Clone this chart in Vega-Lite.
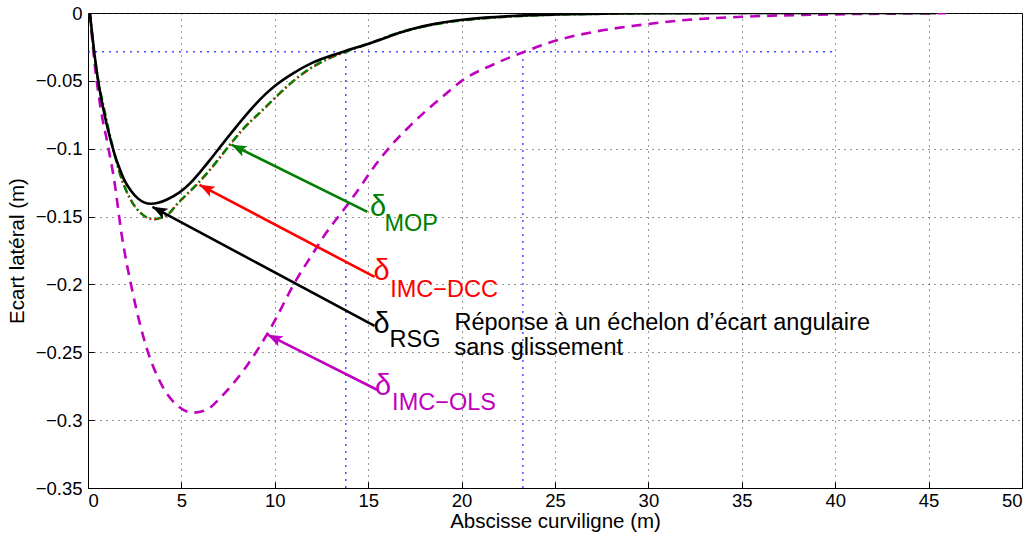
{
  "$schema": "https://vega.github.io/schema/vega-lite/v6.json",
  "width": 934,
  "height": 475,
  "autosize": {"type": "none"},
  "padding": {"left": 88, "top": 13, "right": 14, "bottom": 46},
  "background": "white",
  "config": {
    "font": "Liberation Sans",
    "view": {"stroke": "#000", "strokeWidth": 1},
    "axis": {
      "domainColor": "#000",
      "tickColor": "#000",
      "labelColor": "#000",
      "titleColor": "#000",
      "labelFont": "Liberation Sans",
      "titleFont": "Liberation Sans",
      "labelFontSize": 18.5,
      "titleFontSize": 20.5,
      "titleFontWeight": "normal",
      "gridColor": "#333",
      "gridDash": [1, 5],
      "gridWidth": 1,
      "tickSize": -6
    }
  },
  "datasets": {
    "ref": [
      {"x": 0, "x2": 40, "y": -0.0285, "y2": -0.0285},
      {"x": 13.8, "x2": 13.8, "y": -0.35, "y2": -0.0285},
      {"x": 23.28, "x2": 23.28, "y": -0.35, "y2": -0.0285}
    ],
    "curves": [
      {"s": "IMC-OLS", "x": 0.1, "y": 0},
      {"s": "IMC-OLS", "x": 0.33, "y": -0.034},
      {"s": "IMC-OLS", "x": 0.69, "y": -0.0713},
      {"s": "IMC-OLS", "x": 1.04, "y": -0.0959},
      {"s": "IMC-OLS", "x": 1.4, "y": -0.123},
      {"s": "IMC-OLS", "x": 1.8, "y": -0.163},
      {"s": "IMC-OLS", "x": 2.4, "y": -0.2065},
      {"s": "IMC-OLS", "x": 3.12, "y": -0.246},
      {"s": "IMC-OLS", "x": 4.0, "y": -0.2754},
      {"s": "IMC-OLS", "x": 4.9, "y": -0.2905},
      {"s": "IMC-OLS", "x": 5.61, "y": -0.2945},
      {"s": "IMC-OLS", "x": 6.33, "y": -0.2925},
      {"s": "IMC-OLS", "x": 7.22, "y": -0.2815},
      {"s": "IMC-OLS", "x": 8.47, "y": -0.2606},
      {"s": "IMC-OLS", "x": 9.72, "y": -0.2336},
      {"s": "IMC-OLS", "x": 11.15, "y": -0.1967},
      {"s": "IMC-OLS", "x": 12.0, "y": -0.178},
      {"s": "IMC-OLS", "x": 12.75, "y": -0.162},
      {"s": "IMC-OLS", "x": 13.82, "y": -0.1426},
      {"s": "IMC-OLS", "x": 14.53, "y": -0.129},
      {"s": "IMC-OLS", "x": 15.25, "y": -0.1145},
      {"s": "IMC-OLS", "x": 16.14, "y": -0.099},
      {"s": "IMC-OLS", "x": 17.03, "y": -0.086},
      {"s": "IMC-OLS", "x": 18.1, "y": -0.072},
      {"s": "IMC-OLS", "x": 19.0, "y": -0.0615},
      {"s": "IMC-OLS", "x": 20.06, "y": -0.0495},
      {"s": "IMC-OLS", "x": 21.67, "y": -0.0381},
      {"s": "IMC-OLS", "x": 23.28, "y": -0.029},
      {"s": "IMC-OLS", "x": 24.88, "y": -0.021},
      {"s": "IMC-OLS", "x": 27.2, "y": -0.0136},
      {"s": "IMC-OLS", "x": 29.7, "y": -0.0086},
      {"s": "IMC-OLS", "x": 31.7, "y": -0.0055},
      {"s": "IMC-OLS", "x": 35, "y": -0.0028},
      {"s": "IMC-OLS", "x": 40, "y": -0.001},
      {"s": "IMC-OLS", "x": 45.9, "y": -0.0002},

      {"s": "MOP", "x": 0.1, "y": 0},
      {"s": "MOP", "x": 0.3, "y": -0.026},
      {"s": "MOP", "x": 0.5, "y": -0.046},
      {"s": "MOP", "x": 0.87, "y": -0.0713},
      {"s": "MOP", "x": 1.1, "y": -0.086},
      {"s": "MOP", "x": 1.4, "y": -0.103},
      {"s": "MOP", "x": 1.76, "y": -0.1205},
      {"s": "MOP", "x": 2.29, "y": -0.1377},
      {"s": "MOP", "x": 2.83, "y": -0.1475},
      {"s": "MOP", "x": 3.2, "y": -0.151},
      {"s": "MOP", "x": 3.54, "y": -0.152},
      {"s": "MOP", "x": 3.9, "y": -0.1508},
      {"s": "MOP", "x": 4.26, "y": -0.1487},
      {"s": "MOP", "x": 4.79, "y": -0.1405},
      {"s": "MOP", "x": 5.3, "y": -0.1335},
      {"s": "MOP", "x": 5.8, "y": -0.1266},
      {"s": "MOP", "x": 6.5, "y": -0.116},
      {"s": "MOP", "x": 7.0, "y": -0.1075},
      {"s": "MOP", "x": 7.6, "y": -0.097},
      {"s": "MOP", "x": 8.2, "y": -0.087},
      {"s": "MOP", "x": 9.36, "y": -0.0713},
      {"s": "MOP", "x": 10.2, "y": -0.06},
      {"s": "MOP", "x": 10.96, "y": -0.0504},
      {"s": "MOP", "x": 12.0, "y": -0.04},
      {"s": "MOP", "x": 12.93, "y": -0.0332},
      {"s": "MOP", "x": 14.18, "y": -0.0266},
      {"s": "MOP", "x": 15.6, "y": -0.0197},
      {"s": "MOP", "x": 16.68, "y": -0.0143},
      {"s": "MOP", "x": 17.5, "y": -0.0115},
      {"s": "MOP", "x": 18.5, "y": -0.0085},
      {"s": "MOP", "x": 20, "y": -0.0055},
      {"s": "MOP", "x": 22.7, "y": -0.0025},
      {"s": "MOP", "x": 25, "y": -0.0012},
      {"s": "MOP", "x": 28, "y": -0.0005},
      {"s": "MOP", "x": 32, "y": -0.0001},
      {"s": "MOP", "x": 36, "y": 0},
      {"s": "MOP", "x": 45.4, "y": 0},

      {"s": "IMC-DCC", "x": 0.1, "y": 0},
      {"s": "IMC-DCC", "x": 0.3, "y": -0.026},
      {"s": "IMC-DCC", "x": 0.5, "y": -0.046},
      {"s": "IMC-DCC", "x": 0.87, "y": -0.0715},
      {"s": "IMC-DCC", "x": 1.1, "y": -0.0865},
      {"s": "IMC-DCC", "x": 1.4, "y": -0.1035},
      {"s": "IMC-DCC", "x": 1.76, "y": -0.121},
      {"s": "IMC-DCC", "x": 2.29, "y": -0.138},
      {"s": "IMC-DCC", "x": 2.83, "y": -0.1478},
      {"s": "IMC-DCC", "x": 3.2, "y": -0.1512},
      {"s": "IMC-DCC", "x": 3.54, "y": -0.1522},
      {"s": "IMC-DCC", "x": 3.9, "y": -0.151},
      {"s": "IMC-DCC", "x": 4.26, "y": -0.149},
      {"s": "IMC-DCC", "x": 4.79, "y": -0.141},
      {"s": "IMC-DCC", "x": 5.3, "y": -0.134},
      {"s": "IMC-DCC", "x": 5.8, "y": -0.127},
      {"s": "IMC-DCC", "x": 6.5, "y": -0.1165},
      {"s": "IMC-DCC", "x": 7.0, "y": -0.108},
      {"s": "IMC-DCC", "x": 7.6, "y": -0.0975},
      {"s": "IMC-DCC", "x": 8.2, "y": -0.0875},
      {"s": "IMC-DCC", "x": 9.36, "y": -0.0718},
      {"s": "IMC-DCC", "x": 10.2, "y": -0.0605},
      {"s": "IMC-DCC", "x": 10.96, "y": -0.0508},
      {"s": "IMC-DCC", "x": 12.0, "y": -0.0403},
      {"s": "IMC-DCC", "x": 12.93, "y": -0.0335},
      {"s": "IMC-DCC", "x": 14.18, "y": -0.0268},
      {"s": "IMC-DCC", "x": 15.6, "y": -0.0199},
      {"s": "IMC-DCC", "x": 16.68, "y": -0.0145},
      {"s": "IMC-DCC", "x": 17.5, "y": -0.0116},
      {"s": "IMC-DCC", "x": 18.5, "y": -0.0086},
      {"s": "IMC-DCC", "x": 20, "y": -0.0056},
      {"s": "IMC-DCC", "x": 22.7, "y": -0.0026},
      {"s": "IMC-DCC", "x": 25, "y": -0.0012},
      {"s": "IMC-DCC", "x": 28, "y": -0.0005},
      {"s": "IMC-DCC", "x": 32, "y": -0.0001},
      {"s": "IMC-DCC", "x": 36, "y": 0},
      {"s": "IMC-DCC", "x": 45.4, "y": 0},

      {"s": "RSG", "x": 0.1, "y": 0},
      {"s": "RSG", "x": 0.3, "y": -0.025},
      {"s": "RSG", "x": 0.51, "y": -0.047},
      {"s": "RSG", "x": 0.75, "y": -0.066},
      {"s": "RSG", "x": 0.95, "y": -0.079},
      {"s": "RSG", "x": 1.2, "y": -0.093},
      {"s": "RSG", "x": 1.4, "y": -0.103},
      {"s": "RSG", "x": 1.7, "y": -0.115},
      {"s": "RSG", "x": 1.94, "y": -0.123},
      {"s": "RSG", "x": 2.3, "y": -0.131},
      {"s": "RSG", "x": 2.65, "y": -0.1364},
      {"s": "RSG", "x": 3.0, "y": -0.1395},
      {"s": "RSG", "x": 3.36, "y": -0.1406},
      {"s": "RSG", "x": 3.8, "y": -0.1397},
      {"s": "RSG", "x": 4.26, "y": -0.1372},
      {"s": "RSG", "x": 4.9, "y": -0.1322},
      {"s": "RSG", "x": 5.5, "y": -0.125},
      {"s": "RSG", "x": 6.0, "y": -0.1172},
      {"s": "RSG", "x": 6.5, "y": -0.1088},
      {"s": "RSG", "x": 7.0, "y": -0.1},
      {"s": "RSG", "x": 7.5, "y": -0.0913},
      {"s": "RSG", "x": 8.0, "y": -0.0828},
      {"s": "RSG", "x": 8.5, "y": -0.0745},
      {"s": "RSG", "x": 9.0, "y": -0.0668},
      {"s": "RSG", "x": 9.5, "y": -0.0598},
      {"s": "RSG", "x": 10.0, "y": -0.0538},
      {"s": "RSG", "x": 11.0, "y": -0.0443},
      {"s": "RSG", "x": 12.0, "y": -0.0368},
      {"s": "RSG", "x": 13.0, "y": -0.0315},
      {"s": "RSG", "x": 13.82, "y": -0.0278},
      {"s": "RSG", "x": 15.07, "y": -0.0224},
      {"s": "RSG", "x": 15.6, "y": -0.0199},
      {"s": "RSG", "x": 16.68, "y": -0.0145},
      {"s": "RSG", "x": 17.4, "y": -0.0116},
      {"s": "RSG", "x": 18.5, "y": -0.0082},
      {"s": "RSG", "x": 20.06, "y": -0.005},
      {"s": "RSG", "x": 22.7, "y": -0.0022},
      {"s": "RSG", "x": 25.1, "y": -0.001},
      {"s": "RSG", "x": 28, "y": -0.0004},
      {"s": "RSG", "x": 32, "y": -0.0001},
      {"s": "RSG", "x": 36, "y": 0},
      {"s": "RSG", "x": 45.4, "y": 0}
    ],
    "arrows": [
      {"s": "MOP", "x": 7.68, "y": -0.097, "x2": 14.96, "y2": -0.1465},
      {"s": "IMC-DCC", "x": 5.97, "y": -0.1266, "x2": 15.34, "y2": -0.1945},
      {"s": "RSG", "x": 3.45, "y": -0.1428, "x2": 15.34, "y2": -0.2306},
      {"s": "IMC-OLS", "x": 9.61, "y": -0.237, "x2": 15.5, "y2": -0.2778}
    ],
    "deltas": [
      {"s": "MOP", "x": 15.1, "y": -0.1495, "t": "δ"},
      {"s": "IMC-DCC", "x": 15.28, "y": -0.1967, "t": "δ"},
      {"s": "RSG", "x": 15.28, "y": -0.2355, "t": "δ"},
      {"s": "IMC-OLS", "x": 15.37, "y": -0.2815, "t": "δ"}
    ],
    "subs": [
      {"s": "MOP", "x": 15.87, "y": -0.1603, "t": "MOP"},
      {"s": "IMC-DCC", "x": 16.18, "y": -0.209, "t": "IMC−DCC"},
      {"s": "RSG", "x": 16.14, "y": -0.2459, "t": "RSG"},
      {"s": "IMC-OLS", "x": 16.28, "y": -0.2926, "t": "IMC−OLS"}
    ],
    "note": [
      {"x": 19.62, "y": -0.2336, "t": "Réponse à un échelon d’écart angulaire"},
      {"x": 19.62, "y": -0.2518, "t": "sans glissement"}
    ]
  },
  "layer": [
    {
      "data": {"name": "ref"},
      "mark": {"type": "rule", "color": "#2020ff", "strokeWidth": 1.5, "strokeDash": [2, 5], "opacity": 0.8},
      "encoding": {
        "x": {
          "field": "x", "type": "quantitative",
          "scale": {"domain": [0, 50], "nice": false, "zero": false},
          "axis": {"values": [0, 5, 10, 15, 20, 25, 30, 35, 40, 45, 50], "title": "Abscisse curviligne (m)", "grid": true, "format": "~g", "labelPadding": 9, "titlePadding": 2}
        },
        "y": {
          "field": "y", "type": "quantitative",
          "scale": {"domain": [-0.35, 0], "nice": false, "zero": false},
          "axis": {"values": [-0.35, -0.3, -0.25, -0.2, -0.15, -0.1, -0.05, 0], "title": "Ecart latéral (m)", "grid": true, "format": "~g", "labelPadding": 12, "titlePadding": 8}
        },
        "x2": {"field": "x2"},
        "y2": {"field": "y2"}
      }
    },
    {
      "data": {"name": "curves"},
      "transform": [{"filter": "datum.s == 'IMC-OLS'"}],
      "mark": {"type": "line", "color": "#bf00bf", "strokeWidth": 2.6, "strokeDash": [10, 7], "interpolate": "monotone", "clip": true},
      "encoding": {"x": {"field": "x", "type": "quantitative"}, "y": {"field": "y", "type": "quantitative"}}
    },
    {
      "data": {"name": "curves"},
      "transform": [{"filter": "datum.s == 'MOP'"}],
      "mark": {"type": "line", "color": "#008000", "strokeWidth": 2.6, "strokeDash": [8, 3, 2, 3], "interpolate": "monotone", "clip": true},
      "encoding": {"x": {"field": "x", "type": "quantitative"}, "y": {"field": "y", "type": "quantitative"}}
    },
    {
      "data": {"name": "curves"},
      "transform": [{"filter": "datum.s == 'IMC-DCC'"}],
      "mark": {"type": "line", "color": "#ff0000", "strokeWidth": 1.3, "strokeDash": [1, 3], "interpolate": "monotone", "clip": true},
      "encoding": {"x": {"field": "x", "type": "quantitative"}, "y": {"field": "y", "type": "quantitative"}}
    },
    {
      "data": {"name": "curves"},
      "transform": [{"filter": "datum.s == 'RSG'"}],
      "mark": {"type": "line", "color": "#000000", "strokeWidth": 2.6, "interpolate": "monotone", "clip": true},
      "encoding": {"x": {"field": "x", "type": "quantitative"}, "y": {"field": "y", "type": "quantitative"}}
    },
    {
      "data": {"name": "arrows"},
      "mark": {"type": "rule", "strokeWidth": 2.6},
      "encoding": {
        "x": {"field": "x", "type": "quantitative"},
        "y": {"field": "y", "type": "quantitative"},
        "x2": {"field": "x2"},
        "y2": {"field": "y2"},
        "color": {"field": "s", "type": "nominal", "scale": {"domain": ["MOP", "IMC-DCC", "RSG", "IMC-OLS"], "range": ["#008000", "#ff0000", "#000000", "#bf00bf"]}, "legend": null}
      }
    },
    {
      "data": {"name": "arrows"},
      "mark": {"type": "point", "shape": "M0,0L-1,-0.38L-0.78,0L-1,0.38Z", "filled": true, "opacity": 1, "size": 900, "strokeWidth": 0},
      "encoding": {
        "x": {"field": "x", "type": "quantitative"},
        "y": {"field": "y", "type": "quantitative"},
        "angle": {"field": "s", "type": "nominal", "scale": {"type": "ordinal", "domain": ["MOP", "IMC-DCC", "RSG", "IMC-OLS"], "range": [206.2, 207.7, 208.2, 206.6]}, "legend": null},
        "color": {"field": "s", "type": "nominal", "scale": {"domain": ["MOP", "IMC-DCC", "RSG", "IMC-OLS"], "range": ["#008000", "#ff0000", "#000000", "#bf00bf"]}, "legend": null}
      }
    },
    {
      "data": {"name": "deltas"},
      "mark": {"type": "text", "align": "left", "baseline": "alphabetic", "fontSize": 29, "font": "Liberation Sans"},
      "encoding": {
        "x": {"field": "x", "type": "quantitative"},
        "y": {"field": "y", "type": "quantitative"},
        "text": {"field": "t"},
        "color": {"field": "s", "type": "nominal", "scale": {"domain": ["MOP", "IMC-DCC", "RSG", "IMC-OLS"], "range": ["#008000", "#ff0000", "#000000", "#bf00bf"]}, "legend": null}
      }
    },
    {
      "data": {"name": "subs"},
      "mark": {"type": "text", "align": "left", "baseline": "alphabetic", "fontSize": 23.5, "font": "Liberation Sans"},
      "encoding": {
        "x": {"field": "x", "type": "quantitative"},
        "y": {"field": "y", "type": "quantitative"},
        "text": {"field": "t"},
        "color": {"field": "s", "type": "nominal", "scale": {"domain": ["MOP", "IMC-DCC", "RSG", "IMC-OLS"], "range": ["#008000", "#ff0000", "#000000", "#bf00bf"]}, "legend": null}
      }
    },
    {
      "data": {"name": "note"},
      "mark": {"type": "text", "align": "left", "baseline": "alphabetic", "fontSize": 23.5, "font": "Liberation Sans", "color": "#000"},
      "encoding": {
        "x": {"field": "x", "type": "quantitative"},
        "y": {"field": "y", "type": "quantitative"},
        "text": {"field": "t"}
      }
    }
  ]
}
